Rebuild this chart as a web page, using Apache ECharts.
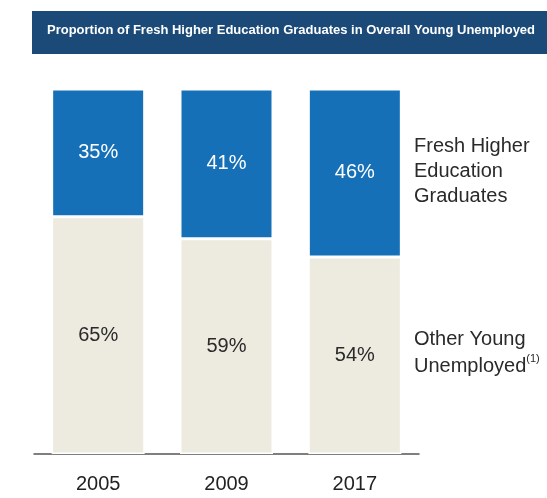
<!DOCTYPE html>
<html>
<head>
<meta charset="utf-8">
<script src="https://cdn.jsdelivr.net/npm/echarts@6/dist/echarts.min.js"></script>
<style>html,body{margin:0;padding:0;background:#fff;}#c{width:547px;height:498px;}</style>
</head>
<body>
<div id="c"></div>
<script>
const categories = ['2005', '2009', '2017'];
const freshGrads = [35, 41, 46];
const otherYoung = [65, 59, 54];
const titleText = 'Proportion of Fresh Higher Education Graduates in Overall Young Unemployed';

const chart = echarts.init(document.getElementById('c'), null, {renderer: 'canvas'});
const font = 'Liberation Sans, Arial, sans-serif';
chart.setOption({
  animation: false,
  textStyle: {fontFamily: font},
  grid: {left: 34, right: 128, top: 89, bottom: 44},
  xAxis: {
    type: 'category',
    data: categories,
    axisLine: {lineStyle: {color: '#555', width: 1.5}},
    axisTick: {show: false},
    axisLabel: {fontSize: 20, color: '#222', margin: 20, fontFamily: font}
  },
  yAxis: {type: 'value', min: 0, max: 100, show: false},
  series: [
    {
      name: 'Other Young Unemployed',
      type: 'bar', stack: 's', data: otherYoung, barWidth: 93,
      itemStyle: {color: '#edeae0', borderColor: '#fff', borderWidth: 1.5},
      label: {show: true, position: 'inside', formatter: '{c}%', fontSize: 20, color: '#2a2a2a', fontFamily: font}
    },
    {
      name: 'Fresh Higher Education Graduates',
      type: 'bar', stack: 's', data: freshGrads, barWidth: 93,
      itemStyle: {color: '#1570b7', borderColor: '#fff', borderWidth: 1.5},
      label: {show: true, position: 'inside', formatter: '{c}%', fontSize: 20, color: '#fff', fontFamily: font}
    }
  ],
  graphic: [
    {type: 'rect', left: 32, top: 11, shape: {width: 515, height: 43}, style: {fill: '#1b4a78'}},
    {type: 'text', left: 47, top: 24, style: {text: titleText, fill: '#fff', font: 'bold 13px ' + font}},
    {type: 'text', left: 414, top: 134, style: {text: 'Fresh Higher\nEducation\nGraduates', fill: '#2a2a2a', fontSize: 20, lineHeight: 25, fontFamily: font}},
    {type: 'text', left: 414, top: 326, style: {
      text: 'Other Young\nUnemployed{s|(1)}', fill: '#2a2a2a', fontSize: 20, lineHeight: 27, fontFamily: font,
      rich: {s: {fontSize: 11, verticalAlign: 'top', lineHeight: 27, padding: [0,0,10,0], fill: '#2a2a2a', fontFamily: font}}
    }}
  ]
});
</script>
</body>
</html>
